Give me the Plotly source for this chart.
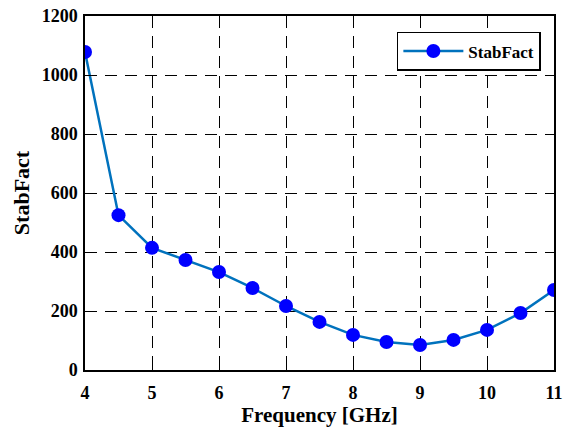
import plotly.graph_objects as go

freq = [4, 4.5, 5, 5.5, 6, 6.5, 7, 7.5, 8, 8.5, 9, 9.5, 10, 10.5, 11]
stabfact = [1078, 525, 414, 373, 332, 278, 217, 163, 119, 95, 85, 102, 136, 193, 271]
x_ticks = [4, 5, 6, 7, 8, 9, 10, 11]
y_ticks = [0, 200, 400, 600, 800, 1000, 1200]

font_family = "Liberation Serif, Times New Roman, serif"

fig = go.Figure()
fig.add_trace(go.Scatter(
    x=freq, y=stabfact, mode="lines+markers", name="<b>StabFact</b>",
    line=dict(color="#0072BD", width=2.5),
    marker=dict(color="#0000FF", size=14),
))

axis_common = dict(
    showline=True, linecolor="black", linewidth=1.5, mirror="ticks",
    ticks="inside", ticklen=6, tickcolor="black", tickwidth=1.2,
    showgrid=True, gridcolor="black", griddash="12px,8px", gridwidth=1.3,
    zeroline=False, automargin=False,
    tickfont=dict(family=font_family, size=18, color="black"),
)

fig.update_xaxes(range=[4, 11], tickvals=x_ticks,
                 ticktext=[f"<b>{v}</b>" for v in x_ticks],
                 ticklabelstandoff=6,
                 title=dict(text="<b>Frequency [GHz]</b>",
                            font=dict(family=font_family, size=21, color="black"), standoff=4),
                 **axis_common)
fig.update_yaxes(range=[0, 1200], tickvals=y_ticks,
                 ticktext=[f"<b>{v}</b>" for v in y_ticks],
                 ticklabelstandoff=2,
                 title=dict(text="<b>StabFact</b>",
                            font=dict(family=font_family, size=22, color="black"), standoff=6),
                 **axis_common)

fig.update_layout(
    width=566, height=435,
    margin=dict(l=85, r=12, t=16, b=65),
    plot_bgcolor="white", paper_bgcolor="white",
    showlegend=True,
    legend=dict(x=0.972, y=0.955, xanchor="right", yanchor="top",
                bgcolor="white", bordercolor="black", borderwidth=1.5,
                itemwidth=60,
                font=dict(family=font_family, size=17, color="black")),
)

fig.write_html("out.html")
